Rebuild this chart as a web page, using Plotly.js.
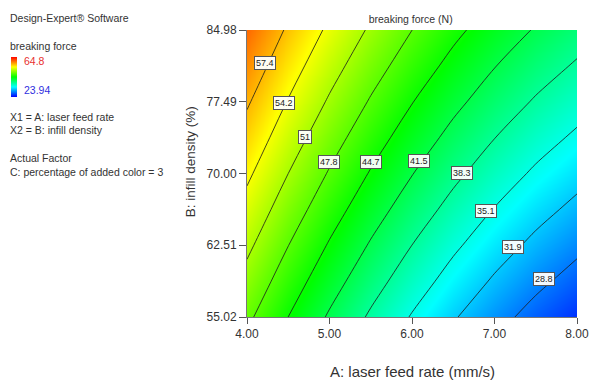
<!DOCTYPE html>
<html><head><meta charset="utf-8">
<script src="https://cdn.plot.ly/plotly-3.0.1.min.js"></script>
<style>html,body{margin:0;padding:0;background:#fff;}#chart{width:596px;height:381px;}</style>
</head><body><div id="chart"></div>
<script>
// A: laser feed rate (mm/s)
const laserFeedRate = [4.0, 4.5, 5.0, 5.5, 6.0, 6.5, 7.0, 7.5, 8.0];
// B: infill density (%)
const infillDensity = [55.02, 58.765, 62.51, 66.255, 70.0, 73.745, 77.49, 81.235, 84.98];
// breaking force (N), rows = infill density, cols = laser feed rate
const breakingForce = [
  [48.46, 44.65, 41.12, 37.87, 34.90, 32.22, 29.81, 27.69, 25.85],
  [50.06, 46.28, 42.77, 39.55, 36.61, 33.95, 31.57, 29.47, 27.65],
  [51.64, 47.88, 44.40, 41.20, 38.29, 35.65, 33.30, 31.23, 29.43],
  [53.20, 49.46, 46.01, 42.84, 39.94, 37.34, 35.01, 32.96, 31.19],
  [54.73, 51.02, 47.59, 44.44, 41.58, 38.99, 36.69, 34.67, 32.93],
  [56.23, 52.55, 49.14, 46.02, 43.18, 40.62, 38.35, 36.35, 34.63],
  [57.71, 54.05, 50.68, 47.58, 44.76, 42.23, 39.98, 38.01, 36.32],
  [59.17, 55.53, 52.18, 49.11, 46.32, 43.81, 41.58, 39.64, 37.97],
  [60.60, 56.99, 53.66, 50.62, 47.85, 45.37, 43.17, 41.25, 39.61]
];
const xTicks = [4.00, 5.00, 6.00, 7.00, 8.00];
const yTicks = [55.02, 62.51, 70.00, 77.49, 84.98];
const colorMin = 23.94, colorMax = 64.8;
// contour labels shown on the map
const contourLabels = ["57.4", "54.2", "51", "47.8", "44.7", "41.5", "38.3", "35.1", "31.9", "28.8"];
const labelX = [4.22, 4.45, 4.70, 4.99, 5.50, 6.08, 6.60, 6.90, 7.22, 7.60];
const labelY = [81.5, 77.33, 73.84, 71.15, 71.15, 71.3, 70.02, 66.09, 62.36, 58.99];

const font = "Liberation Sans, Arial, sans-serif";
const txt = "#333";
const scale = [[0,'rgb(0,0,255)'],[0.25,'rgb(0,255,255)'],[0.5,'rgb(0,255,0)'],[0.75,'rgb(255,255,0)'],[1,'rgb(255,0,0)']];

const pyToPaper = py => (317 - py) / 287;
const pxToPaper = px => (px - 245) / 332;

const trace = {
  type: 'contour',
  x: laserFeedRate, y: infillDensity, z: breakingForce,
  zmin: colorMin, zmax: colorMax, zauto: false,
  colorscale: scale,
  contours: {coloring: 'heatmap', start: 28.76, end: 57.4, size: 3.18, showlabels: false},
  zsmooth: 'best',
  line: {color: '#1a1a1a', width: 0.8, smoothing: 1},
  hoverinfo: 'skip',
  showscale: false
};

// continuous legend bar (Design-Expert style)
const legendBar = {
  type: 'scatter', mode: 'markers', x: [null], y: [null], hoverinfo: 'skip',
  marker: {
    color: [colorMin, colorMax], cmin: colorMin, cmax: colorMax, colorscale: scale, showscale: true,
    colorbar: {
      x: pxToPaper(8), xanchor: 'left',
      y: pyToPaper(57), yanchor: 'top',
      len: 40, lenmode: 'pixels', thickness: 6,
      showticklabels: false, ticks: '', outlinewidth: 0, xpad: 0, ypad: 0
    }
  }
};

const annotations = contourLabels.map((t, i) => ({
  x: labelX[i], y: labelY[i], xref: 'x', yref: 'y', text: t, showarrow: false,
  font: {family: font, size: 9, color: '#222'},
  bgcolor: 'rgba(255,255,255,0.95)', bordercolor: '#555', borderwidth: 1, borderpad: 1
}));

[
  ["Design-Expert® Software", 18, 5, txt],
  ["breaking force", 46, 5, txt],
  ["64.8", 61, 19, '#e8302f'],
  ["23.94", 90, 19, '#3030e0'],
  ["X1 = A: laser feed rate", 117, 5, txt],
  ["X2 = B: infill density", 130, 5, txt],
  ["Actual Factor", 158, 5, txt],
  ["C: percentage of added color = 3", 172, 5, txt]
].forEach(s => {
  annotations.push({x: pxToPaper(s[2]), y: pyToPaper(s[1]), xref: 'paper', yref: 'paper', text: s[0],
    showarrow: false, xanchor: 'left', yanchor: 'middle', font: {family: font, size: 10.5, color: s[3]}});
});

// y-axis title
annotations.push({x: pxToPaper(188), y: pyToPaper(162), xref: 'paper', yref: 'paper', text: 'B: infill density (%)',
  textangle: -90, showarrow: false, xanchor: 'center', yanchor: 'middle', font: {family: font, size: 13.5, color: txt}});
// x-axis title
annotations.push({x: pxToPaper(411), y: pyToPaper(371), xref: 'paper', yref: 'paper', text: 'A: laser feed rate (mm/s)',
  showarrow: false, xanchor: 'center', yanchor: 'middle', font: {family: font, size: 15, color: txt}});

const layout = {
  width: 596, height: 381,
  margin: {l: 245, r: 19, t: 30, b: 64},
  paper_bgcolor: '#fff', plot_bgcolor: '#fff',
  showlegend: false,
  title: {text: 'breaking force (N)', font: {family: font, size: 10.5, color: txt}, x: 0.689, xanchor: 'center', y: 0.95, yanchor: 'middle'},
  xaxis: {
    range: [4, 8], tickvals: xTicks, ticktext: xTicks.map(v => v.toFixed(2)),
    ticks: 'outside', ticklen: 6, tickcolor: '#555', showline: true, linecolor: '#777', linewidth: 1,
    showgrid: false, zeroline: false, tickfont: {family: font, size: 12, color: txt}
  },
  yaxis: {
    range: [55.02, 84.98], tickvals: yTicks, ticktext: yTicks.map(v => v.toFixed(2)),
    ticks: 'outside', ticklen: 7, tickcolor: '#555', showline: true, linecolor: '#777', linewidth: 1,
    showgrid: false, zeroline: false, tickfont: {family: font, size: 12, color: txt}
  },
  annotations: annotations
};

Plotly.newPlot('chart', [trace, legendBar], layout, {displayModeBar: false, staticPlot: true});
</script></body></html>
